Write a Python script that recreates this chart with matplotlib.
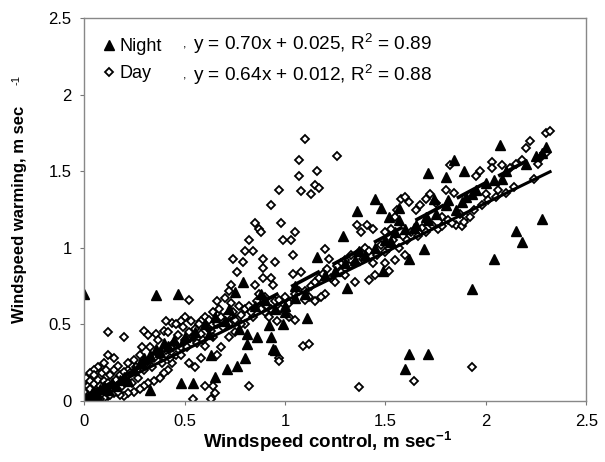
import matplotlib
matplotlib.use('Agg')
import matplotlib.pyplot as plt
import numpy as np

plt.rcParams['font.family'] = ['Liberation Sans', 'DejaVu Sans']
plt.rcParams['mathtext.fontset'] = 'custom'
plt.rcParams['mathtext.rm'] = 'Liberation Sans'
plt.rcParams['mathtext.bf'] = 'Liberation Sans:bold'

# night points (filled triangles)
night_x = [0.0, 0.36, 0.47, 0.33, 0.48, 0.54, 0.63, 0.65, 0.71, 0.76, 0.80, 0.81, 0.81, 0.77,
           0.75, 0.79, 0.86, 0.88, 0.92, 0.93, 0.94, 0.95, 0.99, 1.00, 1.05, 1.11, 1.16, 1.29,
           1.31, 1.36, 1.37, 1.45, 1.48, 1.49, 1.52, 1.60, 1.62, 1.71, 1.62, 1.71, 1.80, 1.84,
           1.89, 1.93, 1.93, 2.04, 2.07, 2.04, 2.08, 2.15, 2.18, 2.28, 2.30, 1.69, 1.53, 1.64,
           1.57, 1.57, 1.71, 1.74, 1.81, 1.88,
           0.02, 0.04, 0.06, 0.08, 0.10, 0.12, 0.14, 0.16, 0.18, 0.20, 0.22, 0.25, 0.28, 0.30,
           0.33, 0.36, 0.38, 0.40, 0.42, 0.45, 0.50, 0.55, 0.60, 0.62, 0.65, 0.70, 0.72, 0.85,
           0.90, 0.95, 1.00, 1.05, 1.10, 1.20, 1.25, 1.30, 1.35, 1.40, 1.45, 1.50, 1.55, 1.60,
           1.65, 1.70, 1.75, 1.80, 1.85, 1.90, 1.95, 2.00, 2.10, 2.20, 2.25, 2.28]
night_y = [0.70, 0.69, 0.70, 0.07, 0.115, 0.115, 0.30, 0.16, 0.21, 0.23, 0.28, 0.375, 0.44, 0.47,
           0.71, 0.78, 0.42, 0.70, 0.495, 0.42, 0.34, 0.33, 0.505, 0.58, 0.67, 0.54, 0.94, 1.08,
           0.74, 1.24, 0.98, 1.32, 1.26, 0.85, 1.20, 0.21, 0.31, 0.31, 0.93, 1.49, 1.46, 1.57,
           1.50, 1.35, 0.73, 0.93, 1.67, 1.44, 1.45, 1.11, 1.04, 1.19, 1.66, 0.99, 1.04, 1.13,
           1.18, 1.26, 1.18, 1.32, 1.31, 1.30,
           0.02, 0.05, 0.04, 0.08, 0.10, 0.07, 0.12, 0.10, 0.14, 0.16, 0.13, 0.20, 0.25, 0.28,
           0.30, 0.34, 0.32, 0.38, 0.36, 0.40, 0.42, 0.45, 0.50, 0.44, 0.55, 0.52, 0.60, 0.62,
           0.66, 0.60, 0.62, 0.75, 0.70, 0.82, 0.85, 0.90, 0.92, 0.95, 1.00, 1.05, 1.10, 1.12,
           1.15, 1.20, 1.22, 1.28, 1.25, 1.33, 1.38, 1.42, 1.50, 1.55, 1.60, 1.62]

# day points (open diamonds)
day_x = [0.12, 0.20, 0.52, 0.54, 0.63, 0.82, 1.37, 1.64, 1.93, 1.10, 1.26, 1.07, 1.07, 1.16,
         1.15, 1.17, 1.13, 1.08, 0.93, 0.97, 0.85, 0.87, 0.88, 0.98, 1.05, 0.99, 1.03, 0.82,
         0.80, 0.79, 0.74, 0.76, 0.84, 0.89, 0.89, 0.95, 1.04, 0.89, 0.85, 0.93, 0.94, 1.08,
         1.04, 1.09, 1.12, 0.97, 0.97, 0.73, 0.72, 0.70, 0.73, 0.66, 0.64, 0.60, 0.58, 0.55,
         0.50, 0.48, 0.44, 0.41, 0.40, 0.36, 0.30, 0.32, 0.29, 0.25, 0.22, 0.15, 0.12, 0.10,
         0.07, 0.05, 0.03, 0.00, 0.01, 0.02,
         1.20, 1.22, 1.28, 1.32, 1.36, 1.38, 1.41, 1.44, 1.50, 1.53, 1.55, 1.56, 1.58, 1.60,
         1.62, 1.65, 1.67, 1.70, 1.72, 1.75, 1.78, 1.80, 1.82, 1.84, 1.85, 1.88, 1.90, 1.95,
         1.97, 2.00, 2.03, 2.03, 2.06, 2.08, 2.12, 2.15, 2.18, 2.20, 2.22, 2.24, 2.26, 2.28,
         2.30, 2.32, 2.30, 1.42, 1.45, 1.52, 1.50, 1.55, 1.60, 1.35, 1.30, 1.25, 1.20, 1.18,
         1.15, 1.12, 1.10, 1.05, 1.02, 0.98, 0.96, 0.92, 0.90, 0.88, 0.84, 0.80, 0.78, 0.75,
         0.72, 0.68, 0.66, 0.60, 0.58, 0.55, 0.52, 0.48, 0.46, 0.44, 0.42, 0.40, 0.38, 0.35,
         0.32, 0.30, 0.28, 0.25, 0.22, 0.20, 0.18, 0.15, 0.12, 0.10, 0.08, 0.05, 0.60, 0.64,
         0.65,
         0.00, 0.00, 0.01, 0.02, 0.03, 0.03, 0.04, 0.05, 0.05, 0.06, 0.07, 0.07, 0.08, 0.09,
         0.09, 0.10, 0.11, 0.11, 0.12, 0.13, 0.13, 0.14, 0.15, 0.16, 0.17, 0.17, 0.18, 0.19,
         0.20, 0.21, 0.22, 0.23, 0.24, 0.26, 0.27, 0.28, 0.30, 0.31, 0.33, 0.34, 0.35, 0.37,
         0.38, 0.39, 0.41, 0.42, 0.43, 0.45, 0.46, 0.47, 0.48, 0.49, 0.50, 0.51, 0.52, 0.53,
         0.54, 0.56, 0.57, 0.58, 0.59, 0.61, 0.62, 0.63, 0.64, 0.66, 0.67, 0.68, 0.69, 0.71,
         0.72, 0.74, 0.75, 0.77, 0.78, 0.80, 0.82, 0.83, 0.86, 0.87, 0.90, 0.91, 0.93, 0.95,
         0.97, 1.00, 1.02, 1.05, 1.07, 1.10, 1.13, 1.15, 1.17, 1.19, 1.21, 1.23, 1.26, 1.28,
         1.30, 1.33, 1.35, 1.37, 1.39, 1.40, 1.42, 1.44, 1.46, 1.48, 1.50, 1.52, 1.54, 1.57,
         1.59, 1.61, 1.63, 1.66, 1.68, 1.70, 1.73, 1.76, 1.78, 1.81, 1.83, 1.87, 1.89, 1.92,
         1.94, 1.98, 2.01, 2.05, 2.10, 2.14]
day_y = [0.45, 0.42, 0.66, 0.01, 0.01, 0.10, 0.09, 0.13, 0.22, 1.71, 1.60, 1.57, 1.47, 1.50,
         1.41, 1.39, 1.35, 1.37, 1.28, 1.38, 1.16, 1.12, 1.10, 1.16, 1.10, 1.05, 1.05, 1.05,
         0.98, 0.91, 0.93, 0.84, 0.98, 0.93, 0.87, 0.91, 0.95, 0.80, 0.76, 0.80, 0.76, 0.84,
         0.83, 0.36, 0.37, 0.28, 0.26, 0.76, 0.72, 0.67, 0.64, 0.65, 0.58, 0.55, 0.52, 0.47,
         0.55, 0.52, 0.51, 0.52, 0.46, 0.44, 0.46, 0.43, 0.35, 0.27, 0.20, 0.28, 0.30, 0.25,
         0.22, 0.20, 0.18, 0.13, 0.05, 0.10,
         0.99, 0.93, 0.90, 0.88, 1.15, 1.10, 1.15, 1.12, 1.10, 1.12, 1.20, 1.25, 1.32, 1.33,
         1.30, 1.25, 1.28, 1.32, 1.35, 1.29, 1.20, 1.38, 1.54, 1.36, 1.15, 1.14, 1.20, 1.47,
         1.50, 1.35, 1.56, 1.52, 1.38, 1.54, 1.52, 1.55, 1.57, 1.65, 1.70, 1.45, 1.55, 1.60,
         1.75, 1.76, 1.62, 0.79, 0.82, 0.85, 0.90, 0.92, 0.95, 0.78, 0.82, 0.78, 0.70, 0.68,
         0.65, 0.68, 0.66, 0.53, 0.55, 0.60, 0.52, 0.55, 0.58, 0.60, 0.55, 0.50, 0.50, 0.45,
         0.42, 0.35, 0.30, 0.36, 0.28, 0.22, 0.25, 0.35, 0.30, 0.25, 0.20, 0.18, 0.15, 0.13,
         0.12, 0.10, 0.08, 0.06, 0.05, 0.03, 0.04, 0.05, 0.03, 0.02, 0.01, 0.00, 0.10, 0.10,
         0.05,
         0.02, 0.06, 0.15, 0.00, 0.08, 0.13, 0.03, 0.11, 0.17, 0.06, 0.01, 0.14, 0.10, 0.05,
         0.18, 0.13, 0.08, 0.20, 0.12, 0.04, 0.17, 0.09, 0.20, 0.14, 0.06, 0.23, 0.17, 0.10,
         0.19, 0.14, 0.25, 0.18, 0.12, 0.22, 0.15, 0.30, 0.20, 0.25, 0.35, 0.22, 0.28, 0.40,
         0.30, 0.25, 0.33, 0.45, 0.28, 0.38, 0.50, 0.43, 0.30, 0.48, 0.40, 0.35, 0.45, 0.52,
         0.42, 0.38, 0.50, 0.44, 0.40, 0.48, 0.53, 0.46, 0.42, 0.50, 0.60, 0.55, 0.48, 0.56,
         0.50, 0.58, 0.53, 0.62, 0.56, 0.60, 0.62, 0.58, 0.65, 0.70, 0.68, 0.62, 0.60, 0.65,
         0.66, 0.68, 0.64, 0.70, 0.72, 0.72, 0.75, 0.78, 0.80, 0.83, 0.86, 0.80, 0.88, 0.84,
         0.92, 0.95, 0.90, 0.97, 0.93, 1.00, 0.98, 0.90, 0.95, 1.02, 0.97, 1.00, 1.05, 1.00,
         1.08, 1.05, 1.10, 1.08, 1.13, 1.10, 1.15, 1.12, 1.14, 1.18, 1.16, 1.22, 1.17, 1.20,
         1.25, 1.28, 1.31, 1.33, 1.36, 1.40]

# regression fits as printed on the chart
night_fit = (0.70, 0.025)
day_fit = (0.64, 0.012)

fig = plt.figure(figsize=(6.05, 4.62), dpi=100)
ax = fig.add_axes([0.139, 0.132, 0.830, 0.829])

ax.plot(day_x, day_y, linestyle='none', marker='D', markersize=4.5,
        markerfacecolor='white', markeredgecolor='black', markeredgewidth=1.3)
ax.plot(night_x, night_y, linestyle='none', marker='^', markersize=6.5,
        color='black')

xs = np.array([0.0, max(day_x)])
ax.plot(xs, day_fit[0] * xs + day_fit[1], color='black', lw=2.2)
xn = np.array([0.0, max(night_x)])
ax.plot(xn, night_fit[0] * xn + night_fit[1], color='black', lw=2.6,
        dashes=(9, 4))

ax.set_xlim(0, 2.5)
ax.set_ylim(0, 2.5)
ax.set_xticks([0, 0.5, 1, 1.5, 2, 2.5])
ax.set_xticklabels(['0', '0.5', '1', '1.5', '2', '2.5'])
ax.set_yticks([0, 0.5, 1, 1.5, 2, 2.5])
ax.set_yticklabels(['0', '0.5', '1', '1.5', '2', '2.5'])
ax.tick_params(labelsize=12, length=3, color='#777777', pad=6)
for s in ax.spines.values():
    s.set_color('#888888')
    s.set_linewidth(1.0)

ax.set_xlabel(r'Windspeed control, m sec$\mathbf{^{-1}}$', fontsize=13.5,
              fontweight='bold')
ax.xaxis.set_label_coords(0.484, -0.075)
ax.set_ylabel('Windspeed warming, m sec', fontsize=12, fontweight='bold')
ax.yaxis.set_label_coords(-0.113, 0.488)
fig.text(0.027, 0.827, '-1', rotation=90, fontsize=8, ha='center', va='center')

# legend rows
leg = ax.legend([plt.Line2D([], [], ls='none', marker='^', color='black', ms=6.5),
                 plt.Line2D([], [], ls='none', marker='D', ms=4.2, mfc='white',
                            mec='black', mew=1.3)],
                ['Night', 'Day'], loc='upper left', bbox_to_anchor=(0.006, 0.99),
                frameon=False, fontsize=13, handlelength=0.6, handletextpad=0.3,
                labelspacing=0.55)
ax.text(0.197, 0.932, ',', transform=ax.transAxes, fontsize=9, va='center')
ax.text(0.197, 0.851, ',', transform=ax.transAxes, fontsize=9, va='center')
ax.text(0.217, 0.932, 'y = 0.70x + 0.025, R$^2$ = 0.89', transform=ax.transAxes,
        fontsize=13.7, va='center')
ax.text(0.217, 0.851, 'y = 0.64x + 0.012, R$^2$ = 0.88', transform=ax.transAxes,
        fontsize=13.7, va='center')

fig.savefig('out.png', dpi=100)
